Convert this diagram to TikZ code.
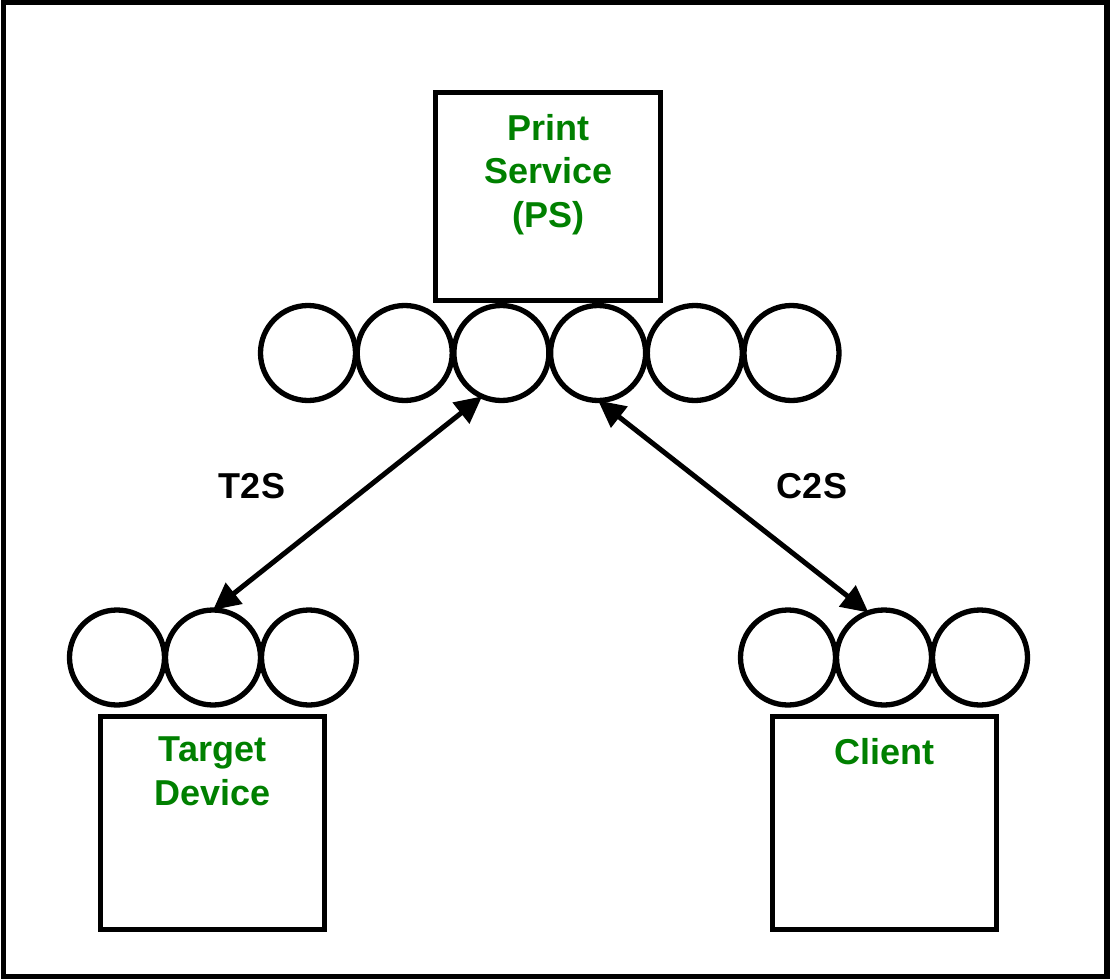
\documentclass[tikz,border=0pt]{standalone}
\usepackage{fontspec}
\setmainfont{Liberation Sans}
\usetikzlibrary{arrows.meta}
\definecolor{titlegreen}{RGB}{0,128,0}
\begin{document}
\begin{tikzpicture}[x=1pt,y=-1pt,
  frame/.style={draw=black,line width=5.3pt},
  unitbox/.style={draw=black,line width=5.3pt,fill=white,inner sep=0pt,outer sep=0pt,anchor=north west},
  port/.style={circle,draw=black,line width=5.3pt,fill=white,minimum size=95pt,inner sep=0pt,outer sep=0pt},
  title/.style={text=titlegreen,font=\fontsize{36}{43.5}\selectfont\bfseries,align=center,inner sep=0pt,anchor=north},
  lbl/.style={text=black,font=\fontsize{36}{43.5}\selectfont\bfseries,inner sep=0pt,anchor=base},
  link/.style={line width=5pt,{Triangle[length=27pt,width=26pt]}-{Triangle[length=27pt,width=26pt]}}
]
\useasboundingbox (0,0) rectangle (1110,979);
\draw[frame] (3.5,2.5) rectangle (1107,976.5);

% Print Service
\node[unitbox,minimum width=225pt,minimum height=208pt] (ps) at (435.5,92.5) {};
\node[title] (pstext) at (548.5,114) {Print\\Service\\(PS)};
\foreach \i/\x in {1/308,2/404.7,3/501.4,4/598.1,5/694.8,6/791.5}
  \node[port] (p\i) at (\x,353) {};

% Target Device
\node[unitbox,minimum width=224pt,minimum height=213pt] (td) at (100.5,716.5) {};
\node[title] (tdtext) at (212.5,737) {Target\\Device};
\foreach \i/\x in {1/117,2/213,3/309}
  \node[port] (t\i) at (\x,657.5) {};

% Client
\node[unitbox,minimum width=224pt,minimum height=213pt] (cl) at (772.5,716.5) {};
\node[title] (cltext) at (884.5,738.5) {Client};
\foreach \i/\x in {1/788,2/884,3/980}
  \node[port] (c\i) at (\x,657.5) {};

% Connections
\draw[link] (t2.north) -- (p3.246);
\draw[link] (p4.270) -- (c2.109);
\node[lbl] (t2s) at (252,498) {T2S};
\node[lbl] (c2s) at (812,498) {C2S};
\end{tikzpicture}
\end{document}
